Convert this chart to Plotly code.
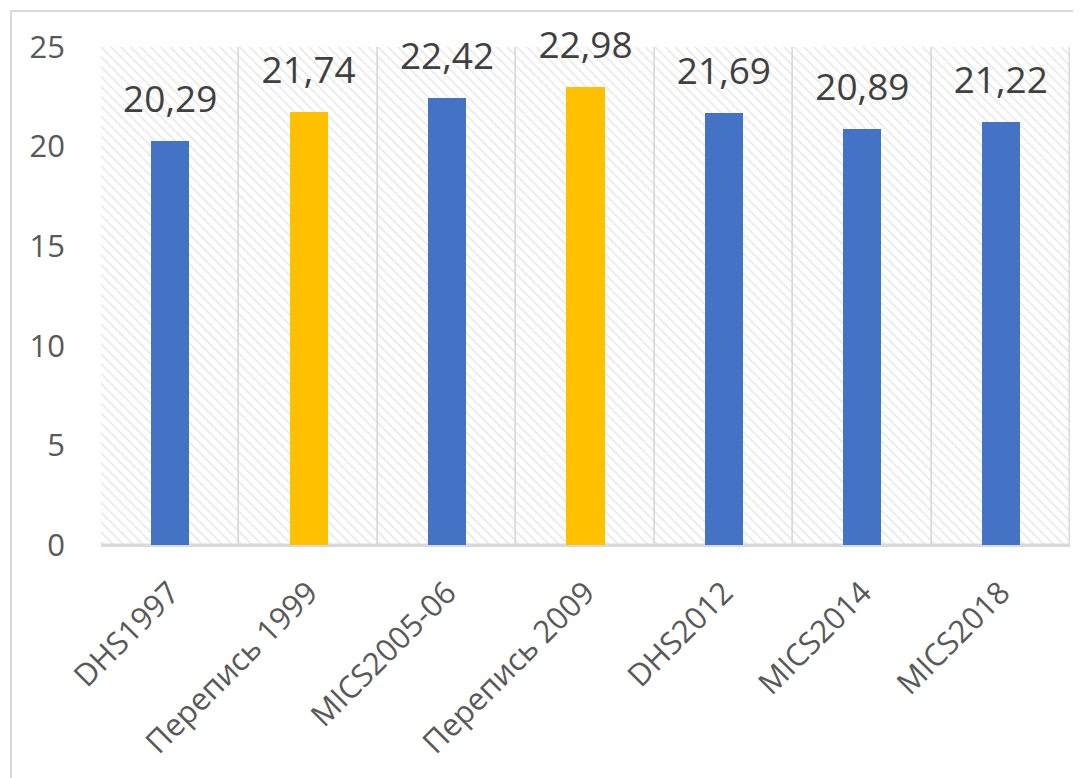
import plotly.graph_objects as go

categories = ["DHS1997", "Перепись 1999", "MICS2005-06", "Перепись 2009", "DHS2012", "MICS2014", "MICS2018"]
values = [20.29, 21.74, 22.42, 22.98, 21.69, 20.89, 21.22]
bar_colors = ["#4472C4", "#FFC000", "#4472C4", "#FFC000", "#4472C4", "#4472C4", "#4472C4"]
y_max = 25

fig = go.Figure()
# hatched plot-area background, one cell per category
fig.add_trace(go.Bar(
    x=categories, y=[y_max] * len(categories), width=1,
    marker=dict(color="white", line=dict(color="#D9D9D9", width=1.5),
                pattern=dict(shape="\\", fgcolor="#CDCDCD", bgcolor="white", size=7, solidity=0.22)),
    hoverinfo="skip", showlegend=False))
fig.add_trace(go.Bar(
    x=categories, y=values, width=0.275,
    marker=dict(color=bar_colors, line=dict(width=0)),
    hoverinfo="x+y", showlegend=False))
# value labels
fig.add_trace(go.Scatter(
    x=categories, y=values, mode="markers+text",
    marker=dict(size=30, color="rgba(0,0,0,0)"),
    texttemplate="%{y:.2f}", textposition="top center", cliponaxis=False,
    textfont=dict(family="Open Sans, Liberation Sans", size=37, color="#404040"),
    hoverinfo="skip", showlegend=False))

fig.add_shape(type="rect", xref="paper", yref="paper",
              x0=-0.0929, y0=-0.6, x1=1.2, y1=1.0723,
              line=dict(color="#D9D9D9", width=2), layer="below")

fig.update_layout(
    width=1081, height=778,
    margin=dict(l=93, r=19, t=39, b=241),
    barmode="overlay", bargap=0,
    separators=",.",
    paper_bgcolor="white", plot_bgcolor="white",
    font=dict(family="Open Sans, Liberation Sans", color="#595959"),
)
fig.update_xaxes(tickangle=-45, tickfont=dict(size=31, color="#595959"), automargin=False,
                 showline=True, linecolor="#D9D9D9", linewidth=2, ticks="", showgrid=False,
                 ticklabelstandoff=15)
fig.update_yaxes(range=[0, y_max], dtick=5, tickfont=dict(size=31, color="#595959"), automargin=False,
                 showgrid=True, gridcolor="#D9D9D9", gridwidth=1.5, zeroline=False,
                 ticks="", layer="above traces", showline=False, ticklabelstandoff=35)

fig.write_html("out.html")
